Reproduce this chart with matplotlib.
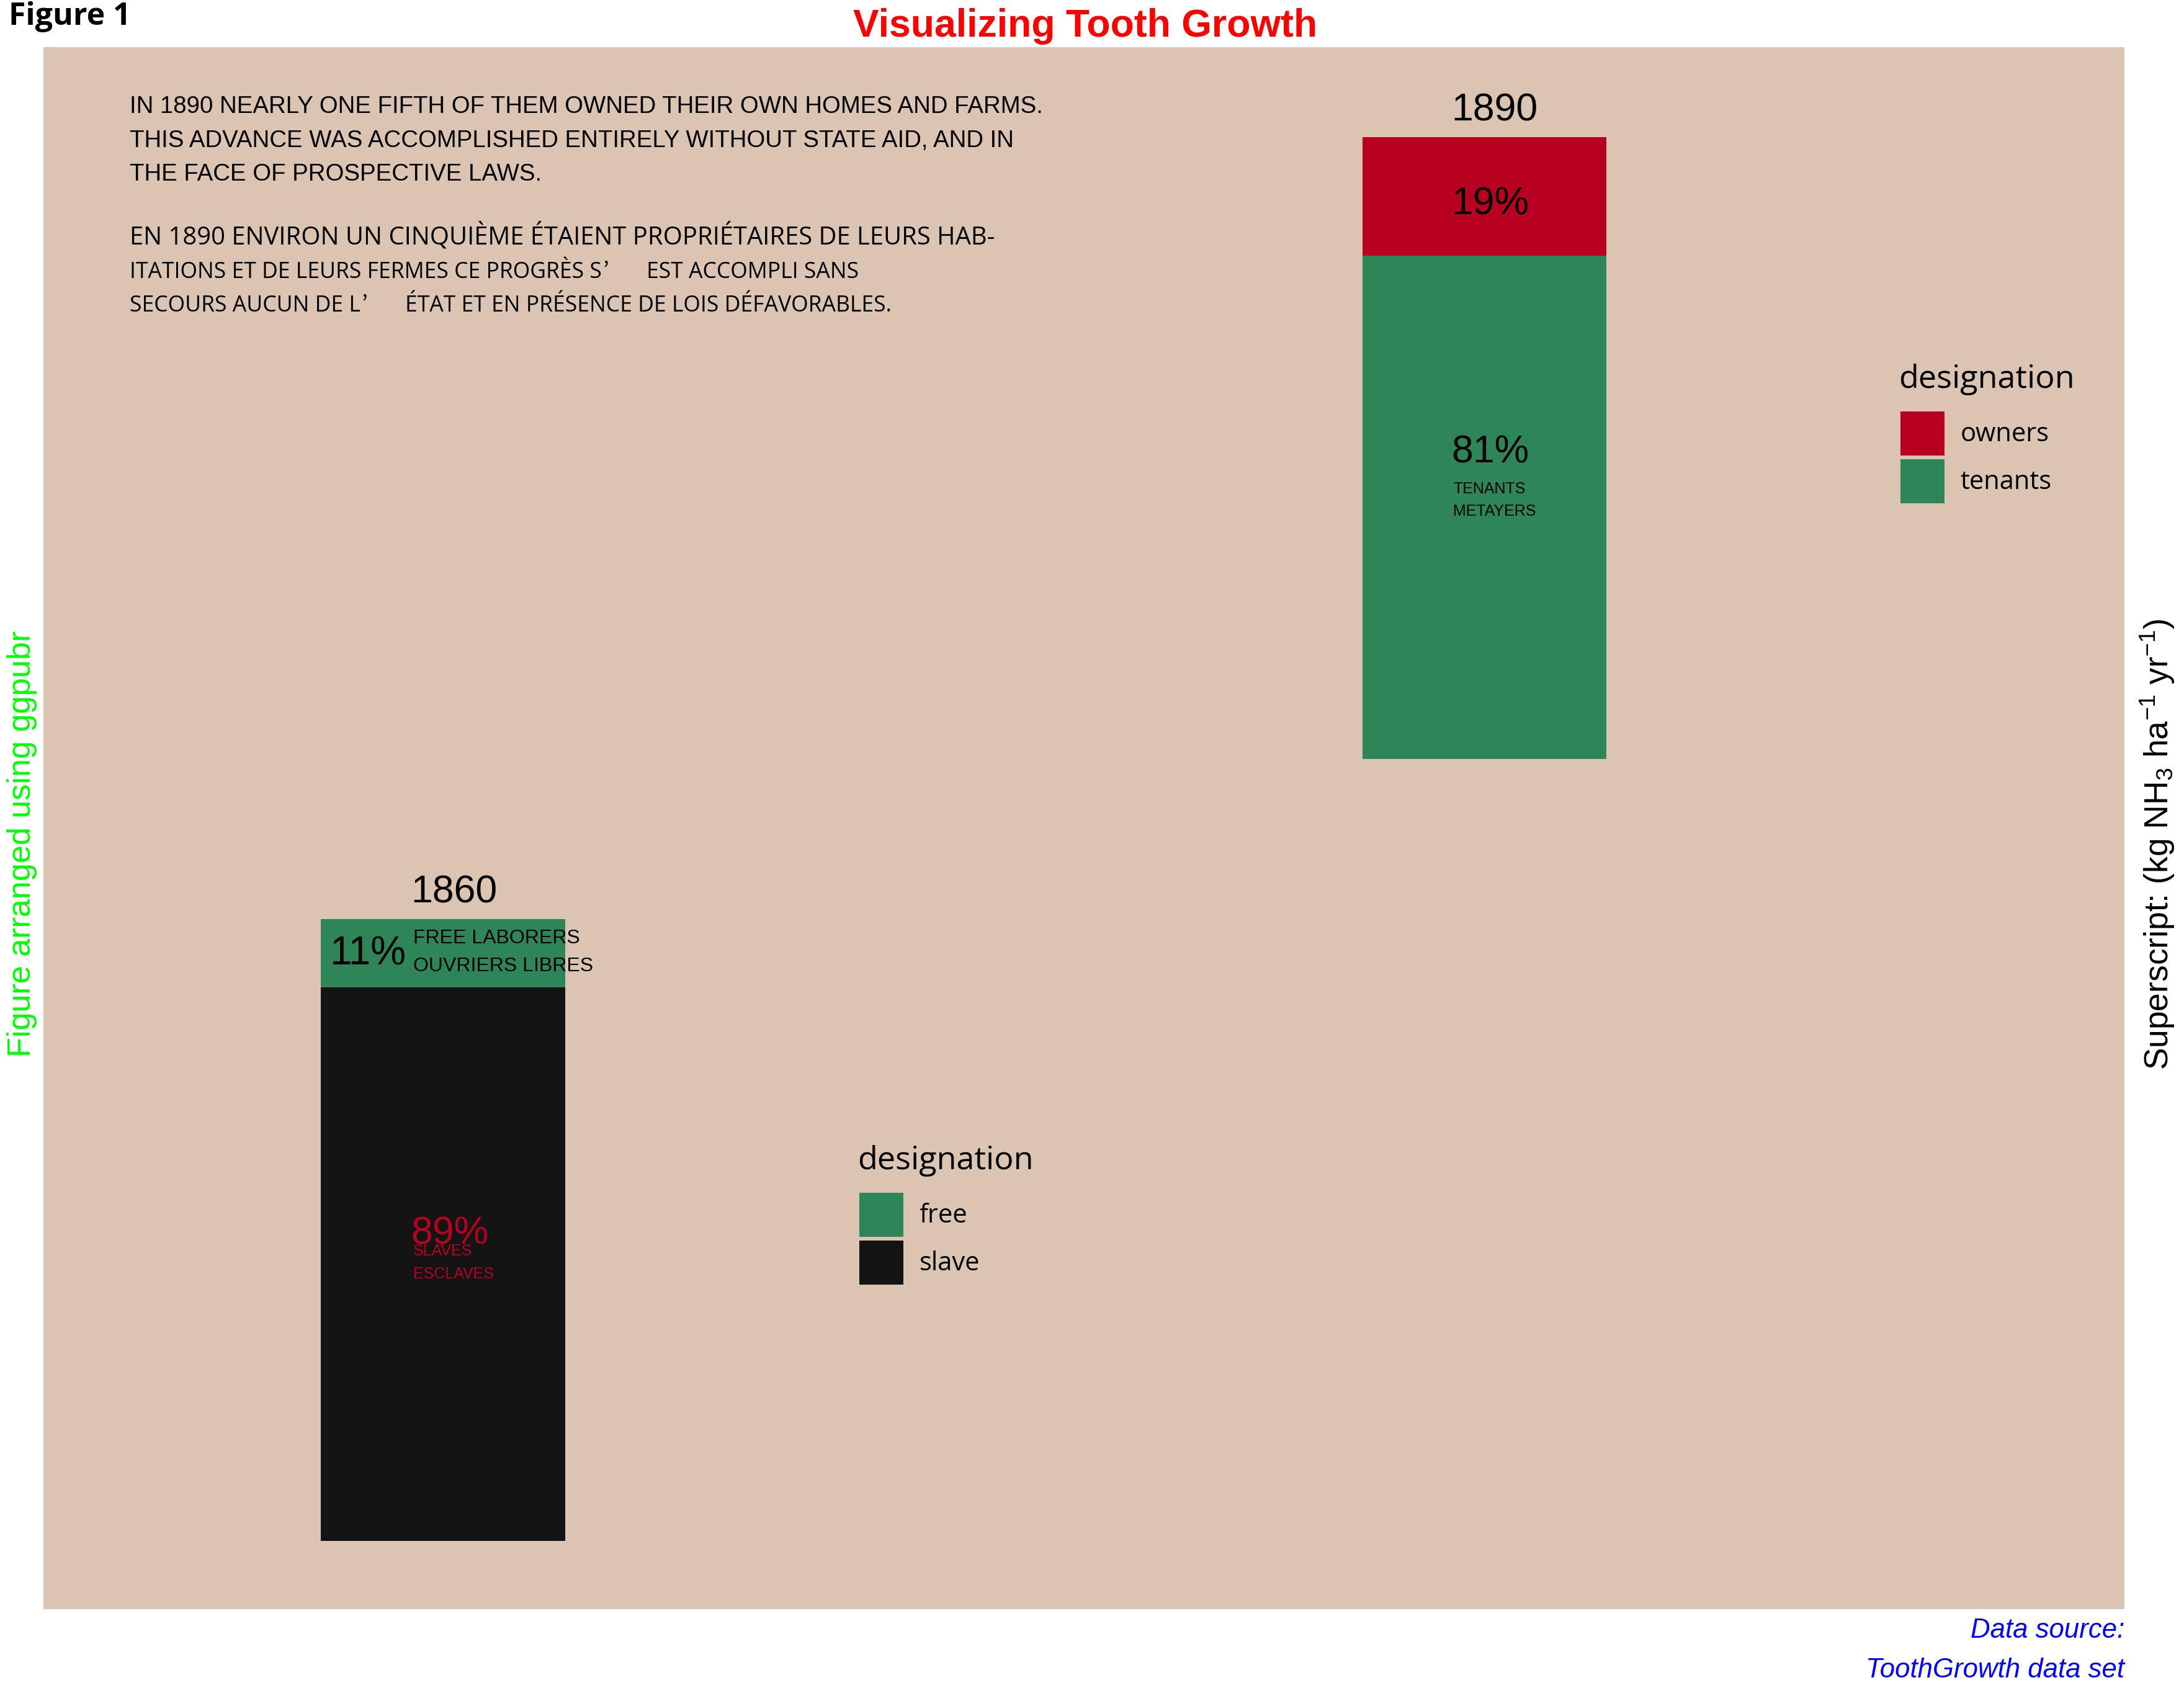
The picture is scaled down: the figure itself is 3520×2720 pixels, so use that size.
import matplotlib
matplotlib.use("Agg")
import matplotlib.pyplot as plt
from matplotlib.patches import Patch

plt.rcParams["font.family"] = ["Liberation Sans", "DejaVu Sans"]
plt.rcParams["mathtext.fontset"] = "custom"
plt.rcParams["mathtext.rm"] = "Liberation Sans"
plt.rcParams["mathtext.it"] = "Liberation Sans:italic"

# ── Data ───────────────────────────────────────────────────────────────
year_top = "1890"
groups_top = ["owners", "tenants"]
share_top = [19, 81]

year_bot = "1860"
groups_bot = ["free", "slave"]
share_bot = [11, 89]

text_en = ["IN 1890 NEARLY ONE FIFTH OF THEM OWNED THEIR OWN HOMES AND FARMS.",
           "THIS ADVANCE WAS ACCOMPLISHED ENTIRELY WITHOUT STATE AID, AND IN",
           "THE FACE OF PROSPECTIVE LAWS."]
text_fr = ["EN 1890 ENVIRON UN CINQUIÈME ÉTAIENT PROPRIÉTAIRES DE LEURS HAB-",
           "ITATIONS ET DE LEURS FERMES CE PROGRÈS S’EST ACCOMPLI SANS",
           "SECOURS AUCUN DE L’ÉTAT ET EN PRÉSENCE DE LOIS DÉFAVORABLES."]

# ── Style ──────────────────────────────────────────────────────────────
BG = "#DCC4B2"
RED = "#B80020"
GREEN = "#2E8658"
BLACK = "#141414"
W, H = 3520, 2720


def fx(x):
    return x / W


def fy(y):
    return 1 - y / H


fig = plt.figure(figsize=(W / 100, H / 100), dpi=100)
fig.patch.set_facecolor("white")

# panels (pixel boxes)
ax_top = fig.add_axes([fx(70), fy(1320), (3424 - 70) / W, (1320 - 76) / H])
ax_bot = fig.add_axes([fx(70), fy(2593), (3424 - 70) / W, (2593 - 1320) / H])
for ax in (ax_top, ax_bot):
    ax.set_facecolor(BG)
    ax.set_xlim(0, 1)
    for s in ax.spines.values():
        s.set_visible(False)
    ax.set_xticks([]); ax.set_yticks([])
ax_top.set_ylim(-9.68, 114.5)
ax_bot.set_ylim(-10.98, 116.07)

BAR_W = 0.1172
BIG = 45

# ── 1890 panel ─────────────────────────────────────────────────────────
xc = 0.6925
ax_top.bar(xc, share_top[1], BAR_W, bottom=0, color=GREEN, label=groups_top[1])
ax_top.bar(xc, share_top[0], BAR_W, bottom=share_top[1], color=RED, label=groups_top[0])
xl = 0.6765
ax_top.text(xl, 102.7, year_top, fontsize=BIG, ha="left", va="baseline")
ax_top.text(xl, 87.6, f"{share_top[0]}%", fontsize=BIG, ha="left", va="baseline")
ax_top.text(xl, 47.7, f"{share_top[1]}%", fontsize=BIG, ha="left", va="baseline")
ax_top.text(xl + 0.001, 42.7, "TENANTS", fontsize=18, ha="left", va="baseline")
ax_top.text(xl + 0.001, 39.1, "METAYERS", fontsize=18, ha="left", va="baseline")

# ── 1860 panel ─────────────────────────────────────────────────────────
xc = 0.192
ax_bot.bar(xc, share_bot[1], BAR_W, bottom=0, color=BLACK, label=groups_bot[1])
ax_bot.bar(xc, share_bot[0], BAR_W, bottom=share_bot[1], color=GREEN, label=groups_bot[0])
xl = 0.1766
ax_bot.text(xl, 102.6, year_bot, fontsize=BIG, ha="left", va="baseline")
ax_bot.text(0.1375, 92.7, f"{share_bot[0]}%", fontsize=46, ha="left", va="baseline")
ax_bot.text(xl + 0.001, 96.1, "FREE LABORERS", fontsize=23, ha="left", va="baseline")
ax_bot.text(xl + 0.001, 91.6, "OUVRIERS LIBRES", fontsize=23, ha="left", va="baseline")
ax_bot.text(xl, 47.8, f"{share_bot[1]}%", fontsize=BIG, color=RED, ha="left", va="baseline")
ax_bot.text(xl + 0.001, 45.9, "SLAVES", fontsize=18, color=RED, ha="left", va="baseline")
ax_bot.text(xl + 0.001, 42.2, "ESCLAVES", fontsize=18, color=RED, ha="left", va="baseline")

# ── legends ────────────────────────────────────────────────────────────
leg_font = {"family": "Open Sans", "size": 30}


def add_legend(ax, names, colors, kx, ky):
    handles = [Patch(facecolor=c, edgecolor="none") for c in colors]
    ax.legend(handles, names, loc="upper left", bbox_to_anchor=(fx(kx), fy(ky + 2)),
              bbox_transform=fig.transFigure, frameon=False, prop=leg_font,
              handlelength=1.704, handleheight=2.245, handletextpad=0.62,
              labelspacing=0.144, borderpad=0, borderaxespad=0)
    fig.text(fx(kx - 3), fy(ky - 36), "designation", family="Open Sans", fontsize=37.5,
             ha="left", va="baseline")


add_legend(ax_top, groups_top, [RED, GREEN], 3063, 661)
add_legend(ax_bot, groups_bot, [GREEN, BLACK], 1385, 1920)

# ── paragraph text ─────────────────────────────────────────────────────
for line, yb in zip(text_en, [182, 237, 291]):
    fig.text(fx(209), fy(yb), line, fontsize=27.6, ha="left", va="baseline")

renderer = fig.canvas.get_renderer()


def draw_fr(x, yb, line, size):
    # latin in Open Sans, the apostrophe from a CJK font (wide, like the source)
    parts = line.split("’")
    for i, part in enumerate(parts):
        if part:
            t = fig.text(fx(x), fy(yb), part, family="Open Sans", fontsize=size,
                         ha="left", va="baseline")
            x = t.get_window_extent(renderer).x1
        if i < len(parts) - 1:
            fig.text(fx(x + 2), fy(yb), "’", family="Noto Sans CJK JP", fontsize=size,
                     ha="left", va="baseline")
            x += 72


for line, yb, size in zip(text_fr, [393, 448, 502], [28.8, 25.6, 25.6]):
    draw_fr(209, yb, line, size)

# ── figure annotations ─────────────────────────────────────────────────
fig.text(fx(1749), fy(59), "Visualizing Tooth Growth", color="#FF0000", fontsize=45,
         fontweight="bold", ha="center", va="baseline")
fig.text(fx(14), fy(40), "Figure 1", family="Open Sans", fontweight="bold", fontsize=36,
         ha="left", va="baseline")
fig.text(fx(36), 0.5, "Figure arranged using ggpubr", color="#00FF00", fontsize=37.5,
         rotation=90, ha="center", va="center")
fig.text(fx(3478), 0.5, r"Superscript: (kg NH$_3$ ha$^{-1}$ yr$^{-1}$)", fontsize=38.4,
         rotation=90, ha="center", va="center")
fig.text(fx(3424), fy(2639), "Data source:", color="blue", style="italic", fontsize=31.5,
         ha="right", va="baseline")
fig.text(fx(3424), fy(2703), "ToothGrowth data set", color="blue", style="italic",
         fontsize=31.5, ha="right", va="baseline")

fig.savefig("out.png", dpi=100)
